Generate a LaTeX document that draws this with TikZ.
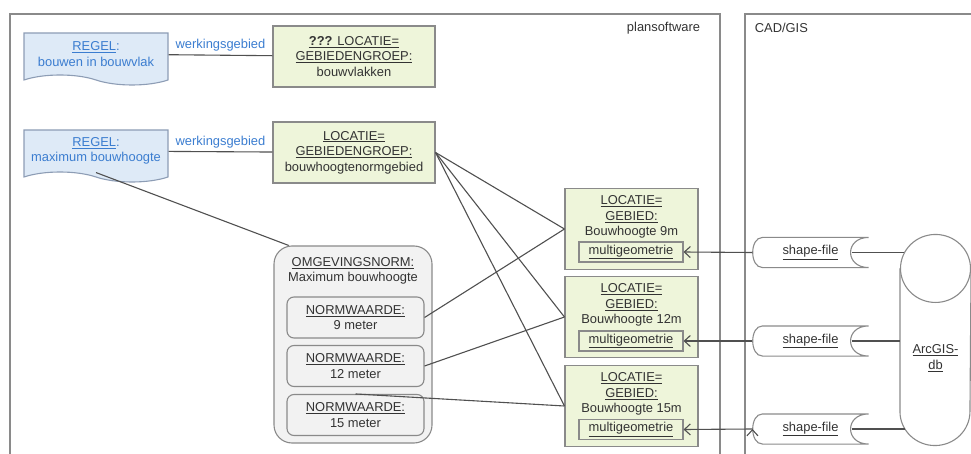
\documentclass[tikz,border=0pt]{standalone}
\usepackage{fontspec}
\setmainfont{Liberation Sans}
\usetikzlibrary{arrows.meta,shapes.symbols}

\definecolor{regelfill}{HTML}{DEEAF7}
\definecolor{regelline}{HTML}{8D9DB5}
\definecolor{regeltext}{HTML}{3B7DD0}
\definecolor{locfill}{HTML}{EEF5DA}
\definecolor{boxline}{HTML}{8A8A8A}
\definecolor{normfill}{HTML}{F2F2F2}
\definecolor{linkline}{HTML}{505050}
\definecolor{labeltext}{HTML}{333333}

\begin{document}
\begin{tikzpicture}[x=1pt,y=-1pt,>={Straight Barb[length=6pt,width=11pt]},line width=1.1pt,
  every node/.style={font=\fontsize{12.9}{15.5}\selectfont,text=labeltext,align=center},
  regel node/.style={tape,tape bend top=none,tape bend bottom=out and in,
    tape bend height=10pt,draw=regelline,fill=regelfill,text=regeltext,
    minimum width=144pt,minimum height=52pt,inner sep=2pt},
  loc node/.style={rectangle,draw=boxline,fill=locfill,
    minimum width=162pt,minimum height=61pt,inner sep=2pt},
  gebied node/.style={rectangle,draw=boxline,fill=locfill,
    minimum width=133pt,minimum height=81pt},
  geo node/.style={rectangle,draw=boxline,fill=locfill,
    minimum width=104pt,minimum height=20pt,inner sep=1pt},
  norm node/.style={rectangle,rounded corners=7pt,draw=boxline,fill=normfill,
    minimum width=137pt,minimum height=41pt,inner sep=1pt},
  omg node/.style={rectangle,rounded corners=18pt,draw=boxline,fill=normfill,
    minimum width=158pt,minimum height=197pt},
  file node/.style={rectangle,minimum width=115pt,minimum height=29pt,inner sep=0pt},
  db node/.style={rectangle,minimum width=70pt,minimum height=210pt,inner sep=0pt},
  frame/.style={draw=boxline},
  link/.style={draw=linkline}]

  \useasboundingbox (0,0) rectangle (971,454);

  % frames
  \draw[frame] (10,454) |- (720,14) -- (720,454);
  \draw[frame] (745,454) |- (971,14);
  \node[anchor=east] (plantitle) at (704,28) {plansoftware};
  \node[anchor=west] (cadtitle) at (751,28) {CAD/GIS};

  \node[regel node] (regel1) at (96,54) {\underline{REGEL}:\\bouwen in bouwvlak};
  \node[loc node] (lg1) at (354,56.5) {\underline{\textbf{???} LOCATIE=}\\\underline{GEBIEDENGROEP:}\\bouwvlakken};
  \node[regel node] (regel2) at (96,151) {\underline{REGEL}:\\maximum bouwhoogte};
  \node[loc node] (lg2) at (354,152.5) {\underline{LOCATIE=}\\\underline{GEBIEDENGROEP:}\\bouwhoogtenormgebied};

  \node[omg node] (omg) at (353,344.5) {};
  \node[anchor=north] (omgtitle) at ([yshift=-8pt]omg.north) {\underline{OMGEVINGSNORM:}\\Maximum bouwhoogte};
  \node[norm node] (n9) at (355.5,317.5) {\underline{NORMWAARDE:}\\9 meter};
  \node[norm node] (n12) at (355.5,366) {\underline{NORMWAARDE:}\\12 meter};
  \node[norm node] (n15) at (355.5,415) {\underline{NORMWAARDE:}\\15 meter};

  \node[gebied node] (g9) at (631.5,229) {};
  \node[anchor=north] (g9title) at ([yshift=-4pt]g9.north) {\underline{LOCATIE=}\\\underline{GEBIED:}\\Bouwhoogte 9m};
  \node[geo node] (mg9) at (631,252) {\underline{multigeometrie}};
  \node[gebied node] (g12) at (631.5,317) {};
  \node[anchor=north] (g12title) at ([yshift=-4pt]g12.north) {\underline{LOCATIE=}\\\underline{GEBIED:}\\Bouwhoogte 12m};
  \node[geo node] (mg12) at (631,341) {\underline{multigeometrie}};
  \node[gebied node] (g15) at (631.5,406) {};
  \node[anchor=north] (g15title) at ([yshift=-4pt]g15.north) {\underline{LOCATIE=}\\\underline{GEBIED:}\\Bouwhoogte 15m};
  \node[geo node] (mg15) at (631,429.5) {\underline{multigeometrie}};

  \node[file node] (sf9) at (810.5,252.5) {\underline{shape-file}};
  \node[file node] (sf12) at (810.5,341) {\underline{shape-file}};
  \node[file node] (sf15) at (810.5,429) {\underline{shape-file}};
  \draw[frame] ([xshift=10pt]sf9.north west) -- (sf9.north east)
    .. controls ([xshift=-24pt]sf9.north east) and ([xshift=-24pt]sf9.south east) .. (sf9.south east)
    -- ([xshift=10pt]sf9.south west)
    .. controls ([xshift=-3pt]sf9.south west) and ([xshift=-3pt]sf9.north west) .. cycle;
  \draw[frame] ([xshift=10pt]sf12.north west) -- (sf12.north east)
    .. controls ([xshift=-24pt]sf12.north east) and ([xshift=-24pt]sf12.south east) .. (sf12.south east)
    -- ([xshift=10pt]sf12.south west)
    .. controls ([xshift=-3pt]sf12.south west) and ([xshift=-3pt]sf12.north west) .. cycle;
  \draw[frame] ([xshift=10pt]sf15.north west) -- (sf15.north east)
    .. controls ([xshift=-24pt]sf15.north east) and ([xshift=-24pt]sf15.south east) .. (sf15.south east)
    -- ([xshift=10pt]sf15.south west)
    .. controls ([xshift=-3pt]sf15.south west) and ([xshift=-3pt]sf15.north west) .. cycle;

  % database cylinder
  \node[db node] (db) at (935.5,340) {};
  \draw[frame] ([yshift=-34pt]db.north west) -- ([yshift=34pt]db.south west)
    arc[start angle=180,end angle=360,x radius=35pt,y radius=34pt]
    -- ([yshift=-34pt]db.north east);
  \draw[frame] ([yshift=-34pt]db.north) ellipse [x radius=35pt,y radius=34pt];
  \node (dbtext) at ([yshift=-18pt]db.center) {\underline{ArcGIS-}\\\underline{db}};

  \path[link]
    (regel1) edge node[above,text=regeltext] {werkingsgebied} (lg1)
    (regel2) edge node[above,text=regeltext] {werkingsgebied} (lg2)
    (regel2.south) edge (omg.123)
    (lg2.east) edge (g9.west) edge (g12.west) edge (g15.west)
    (n9.east) edge (g9.west)
    (n12.east) edge (g12.west)
    (n15.north) edge (g15.west)
    ;
  \path[link,->]
    (sf9.west) edge (mg9.east)
    (sf12.west) edge (mg12.east)
    (sf15.west) edge (mg15.east)
    ;
  \path[link]
    ([xshift=-17pt]sf9.east) edge ([xshift=4pt]sf9.east -| db.west)
    ([xshift=-17pt]sf12.east) edge (sf12.east -| db.west)
    ([xshift=-17pt]sf15.east) edge ([xshift=5pt]sf15.east -| db.west)
    ;
\end{tikzpicture}
\end{document}
